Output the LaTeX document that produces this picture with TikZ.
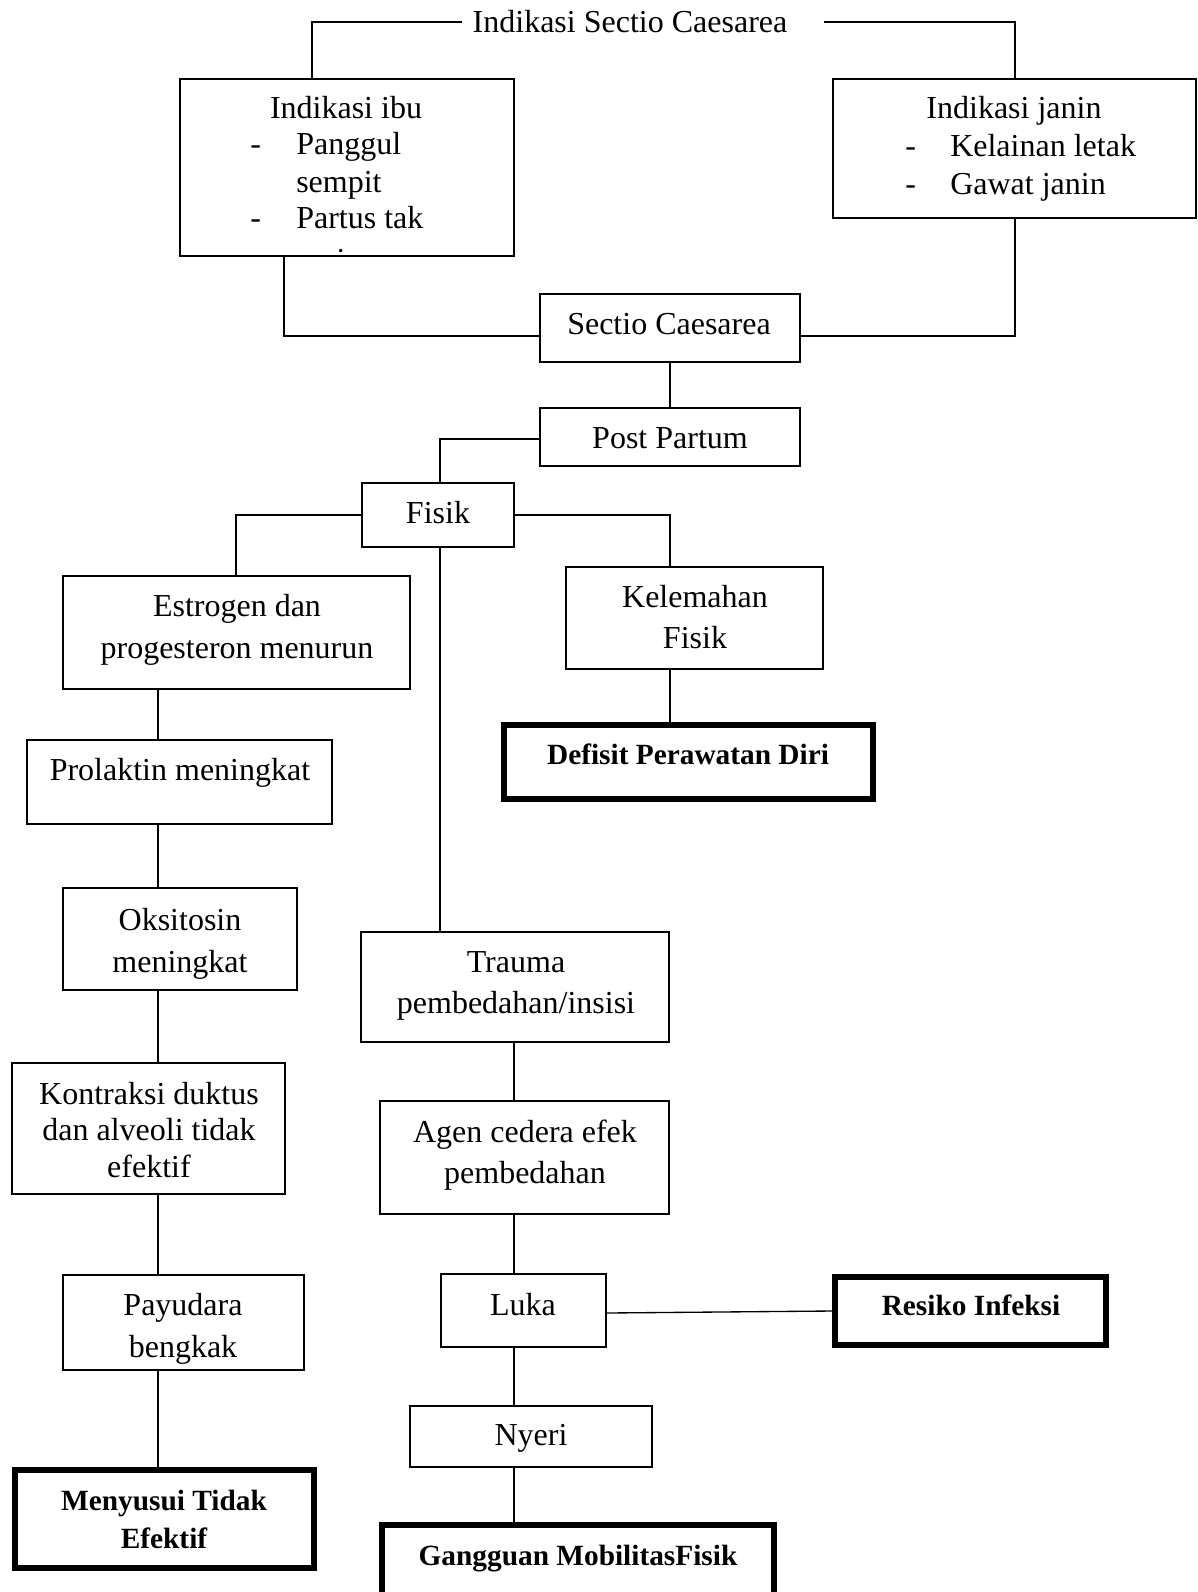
\documentclass[tikz,border=0pt]{standalone}
\usepackage{fontspec}
\setmainfont{Liberation Serif}
\usetikzlibrary{fit}
\begin{document}
\begin{tikzpicture}[x=0.75pt,y=-0.75pt,
  box/.style={draw, line width=1pt, inner sep=0pt},
  bbox/.style={draw, line width=3.8pt, inner sep=0pt},
  conn/.style={line width=1pt},
  txt/.style={align=center, inner sep=0pt, font=\fontsize{24}{31}\selectfont},
  tx/.style={inner sep=0pt, anchor=base west, font=\fontsize{24}{28}\selectfont},
  btxt/.style={align=center, inner sep=0pt, font=\fontsize{22}{28.5}\selectfont\bfseries}]
\useasboundingbox (0,0) rectangle (1197,1592);
\clip (0,0) rectangle (1197,1592);
% title
\node[txt] (title) at (630,22) {Indikasi Sectio Caesarea};
\coordinate (tl) at (462,22);
\coordinate (tr) at (824,22);
% boxes
\node[box, fit={(180,79) (514,256)}] (ibu) {};
\node[box, fit={(833,79) (1196,218)}] (janin) {};
\node[box, fit={(540,294) (800,362)}] (sc) {};
\node[box, fit={(540,408) (800,466)}] (pp) {};
\node[box, fit={(362,483) (514,547)}] (fisik) {};
\node[box, fit={(63,576) (410,689)}] (estrogen) {};
\node[box, fit={(27,740) (332,824)}] (prolaktin) {};
\node[box, fit={(63,888) (297,990)}] (oksitosin) {};
\node[box, fit={(12,1063) (285,1194)}] (kontraksi) {};
\node[box, fit={(63,1275) (304,1370)}] (payudara) {};
\node[bbox, fit={(15,1470) (314,1568)}] (menyusui) {};
\node[box, fit={(566,567) (823,669)}] (kel) {};
\node[bbox, fit={(504,725) (873,799)}] (defisit) {};
\node[box, fit={(361,932) (669,1042)}] (trauma) {};
\node[box, fit={(380,1101) (669,1214)}] (agen) {};
\node[box, fit={(441,1274) (606,1347)}] (luka) {};
\node[bbox, fit={(835,1277) (1106,1345)}] (resiko) {};
\node[box, fit={(410,1406) (652,1467)}] (nyeri) {};
\node[bbox, fit={(382,1525) (774,1620)}] (gangguan) {};
% texts
\node[txt] (ibu-t) at (346,108) {Indikasi ibu};
\node[tx] (ibu-d1) at (250,154) {-};
\node[tx] (ibu-1) at (296,154) {Panggul};
\node[tx] (ibu-2) at (296,192) {sempit};
\node[tx] (ibu-d2) at (250,228) {-};
\node[tx] (ibu-3) at (296,228) {Partus tak};
\begin{scope}
\clip (181,79) rectangle (513,254);
\node[tx] (ibu-4) at (297,270) {maju};
\end{scope}
\node[txt] (janin-t) at (1014,111) {Indikasi janin};
\node[tx] (janin-d1) at (905,156) {-};
\node[tx] (janin-1) at (950,156) {Kelainan letak};
\node[tx] (janin-d2) at (905,194) {-};
\node[tx] (janin-2) at (950,194) {Gawat janin};
\node[txt] (sc-t) at (669,324) {Sectio Caesarea};
\node[txt] (pp-t) at (670,438) {Post Partum};
\node[txt] (fisik-t) at (438,513) {Fisik};
\node[txt] (estrogen-t) at (237,630) {Estrogen dan\\progesteron menurun};
\node[txt] (prolaktin-t) at (180,773) {Prolaktin meningkat};
\node[txt] (oksitosin-t) at (180,944) {Oksitosin\\meningkat};
\node[txt, font=\fontsize{24}{27.4}\selectfont] (kontraksi-t) at (149,1130) {Kontraksi duktus\\dan alveoli tidak\\efektif};
\node[txt] (payudara-t) at (183,1329) {Payudara\\bengkak};
\node[btxt] (menyusui-t) at (164,1519) {Menyusui Tidak\\Efektif};
\node[txt] (kel-t) at (695,617) {Kelemahan\\Fisik};
\node[btxt] (defisit-t) at (688,754) {Defisit Perawatan Diri};
\node[txt] (trauma-t) at (516,986) {Trauma\\pembedahan/insisi};
\node[txt] (agen-t) at (525,1155) {Agen cedera efek\\pembedahan};
\node[txt] (luka-t) at (523,1305) {Luka};
\node[btxt] (resiko-t) at (971,1305) {Resiko Infeksi};
\node[txt] (nyeri-t) at (531,1438) {Nyeri};
\node[btxt] (gangguan-t) at (578,1559) {Gangguan MobilitasFisik};
% connectors
\draw[conn] (tl) -| (ibu.north -| 312,0);
\draw[conn] (tr) -| (janin.north -| 1015,0);
\draw[conn] (ibu.south -| 284,0) |- (sc.west |- 0,336);
\draw[conn] (janin.south -| 1015,0) |- (sc.east |- 0,336);
\draw[conn] (sc.south -| 670,0) -- (pp.north -| 670,0);
\draw[conn] (pp.west |- 0,439) -| (fisik.north -| 440,0);
\draw[conn] (fisik.west) -| (estrogen.north -| 236,0);
\draw[conn] (fisik.east) -| (kel.north -| 670,0);
\draw[conn] (fisik.south -| 440,0) -- (trauma.north -| 440,0);
\draw[conn] (estrogen.south -| 158,0) -- (prolaktin.north -| 158,0);
\draw[conn] (prolaktin.south -| 158,0) -- (oksitosin.north -| 158,0);
\draw[conn] (oksitosin.south -| 158,0) -- (kontraksi.north -| 158,0);
\draw[conn] (kontraksi.south -| 158,0) -- (payudara.north -| 158,0);
\draw[conn] (payudara.south -| 158,0) -- (menyusui.north -| 158,0);
\draw[conn] (kel.south -| 670,0) -- (defisit.north -| 670,0);
\draw[conn] (trauma.south -| 514,0) -- (agen.north -| 514,0);
\draw[conn] (agen.south -| 514,0) -- (luka.north -| 514,0);
\draw[conn] (luka.east |- 0,1313) -- (resiko.west |- 0,1311);
\draw[conn] (luka.south -| 514,0) -- (nyeri.north -| 514,0);
\draw[conn] (nyeri.south -| 514,0) -- (gangguan.north -| 514,0);
\end{tikzpicture}
\end{document}
